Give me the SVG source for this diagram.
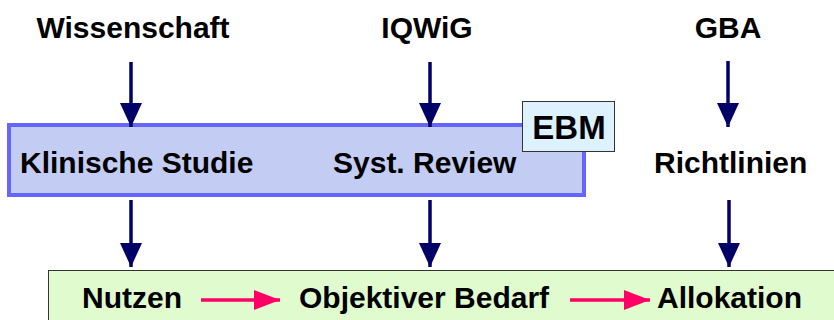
<svg xmlns="http://www.w3.org/2000/svg" width="834" height="320" viewBox="0 0 834 320">
<style>
.t{font-family:"Liberation Sans",Arial,sans-serif;font-weight:bold;font-size:30px;fill:#000}
.dn{stroke:#000066;stroke-width:3.5;fill:none}
.pk{stroke:#FF0066;stroke-width:3.5;fill:none}
</style>
<defs>
<marker id="ah" markerUnits="userSpaceOnUse" markerWidth="24" markerHeight="22" refX="24" refY="11" orient="auto" viewBox="0 0 24 22">
<path d="M0,0 L24,11 L0,22 Z" fill="#000066"/>
</marker>
<marker id="ap" markerUnits="userSpaceOnUse" markerWidth="26" markerHeight="20" refX="26" refY="10" orient="auto" viewBox="0 0 26 20">
<path d="M0,0 L26,10 L0,20 Z" fill="#FF0066"/>
</marker>
</defs>
<rect width="834" height="320" fill="#fff"/>
<g id="green-box">
<rect x="48.5" y="270.5" width="800" height="60" fill="#E0FCCF" stroke="#333" stroke-width="1"/>
</g>
<g id="blue-box">
<rect x="9" y="125" width="575" height="70" fill="#C3CCF2" stroke="#6666FF" stroke-width="4"/>
</g>
<g id="ebm">
<rect x="522.5" y="101.5" width="92" height="50" fill="#DDF1FF" stroke="#333" stroke-width="1"/>
<text class="t" x="569" y="139" text-anchor="middle" style="font-size:33px">EBM</text>
</g>
<g id="wissenschaft"><text class="t" x="133" y="38" text-anchor="middle">Wissenschaft</text></g>
<g id="iqwig"><text class="t" x="427" y="38" text-anchor="middle">IQWiG</text></g>
<g id="gba"><text class="t" x="728" y="38" text-anchor="middle">GBA</text></g>
<g id="klinische-studie"><text class="t" x="20" y="173">Klinische Studie</text></g>
<g id="syst-review"><text class="t" x="333" y="173">Syst. Review</text></g>
<g id="richtlinien"><text class="t" x="654" y="173">Richtlinien</text></g>
<g id="nutzen"><text class="t" x="82" y="308">Nutzen</text></g>
<g id="objektiver-bedarf"><text class="t" x="299" y="308">Objektiver Bedarf</text></g>
<g id="allokation"><text class="t" x="657" y="308">Allokation</text></g>
<g id="connectors">
<line class="dn" x1="131" y1="62" x2="131" y2="127" marker-end="url(#ah)"/>
<line class="dn" x1="430" y1="62" x2="430" y2="127" marker-end="url(#ah)"/>
<line class="dn" x1="728" y1="61" x2="728" y2="127" marker-end="url(#ah)"/>
<line class="dn" x1="131" y1="200" x2="131" y2="267" marker-end="url(#ah)"/>
<line class="dn" x1="430" y1="200" x2="430" y2="267" marker-end="url(#ah)"/>
<line class="dn" x1="729" y1="200" x2="729" y2="267" marker-end="url(#ah)"/>
<line class="pk" x1="201" y1="300" x2="280" y2="300" marker-end="url(#ap)"/>
<line class="pk" x1="570" y1="300" x2="650" y2="300" marker-end="url(#ap)"/>
</g>
</svg>
